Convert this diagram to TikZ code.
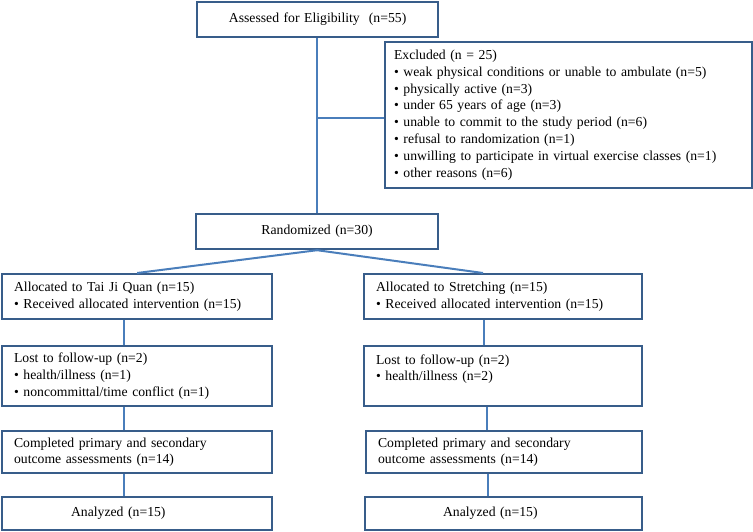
\documentclass[tikz,border=0pt]{standalone}
\usepackage{fontspec}
\setmainfont{Liberation Serif}
\usepackage{xcolor}
\usetikzlibrary{positioning}

\definecolor{boxblue}{RGB}{56,93,138}
\definecolor{lineblue}{RGB}{74,126,187}
\newcommand{\itm}{\textbullet\ }

\begin{document}
\begin{tikzpicture}[x=1pt, y=-1pt,
  every node/.style={font=\fontsize{13.7}{16.8}\selectfont},
  box/.style={draw=boxblue, line width=2.2pt, rectangle, anchor=north west,
    inner xsep=12pt, inner ysep=0pt, align=left},
  link/.style={draw=lineblue, line width=2pt}]
\useasboundingbox (0,0) rectangle (753,531);

% top part
\node[box, align=center, minimum width=241pt, minimum height=35pt, text width=217pt] at (196,1) (assess) {Assessed for Eligibility\ \ (n=55)};
\node[box, inner xsep=9pt, minimum height=146pt, text width=349pt] at (384,41) (excl) {Excluded (n = 25)\\
\itm weak physical conditions or unable to ambulate (n=5)\\
\itm physically active (n=3)\\
\itm under 65 years of age (n=3)\\
\itm unable to commit to the study period (n=6)\\
\itm refusal to randomization (n=1)\\
\itm unwilling to participate in virtual exercise classes (n=1)\\
\itm other reasons (n=6)};
\node[box, align=center, minimum height=35pt, text width=218pt] at (195,213) (rand) {Randomized (n=30)};

% left arm
\node[box, minimum height=45pt, text width=246pt] at (1,273) (taiji) {Allocated to Tai Ji Quan (n=15)\\ \itm Received allocated intervention (n=15)};
\node[box, minimum height=60pt, text width=246pt] at (1,345) (lostL) {Lost to follow-up (n=2)\\ \itm health/illness (n=1)\\ \itm noncommittal/time conflict (n=1)};
\node[box, minimum height=42pt, text width=246pt] at (1,430) (compL) {Completed primary and secondary\\ outcome assessments (n=14)};
\node[box, minimum height=33pt, text width=246pt] at (1,496) (anL) {\hspace*{57pt}Analyzed (n=15)};

% right arm
\node[box, minimum height=45pt, text width=254pt] at (363,273) (stretch) {Allocated to Stretching (n=15)\\ \itm Received allocated intervention (n=15)};
\node[box, minimum height=60pt, text width=254pt] at (363,345) (lostR) {Lost to follow-up (n=2)\\ \itm health/illness (n=2)\\ \mbox{}};
\node[box, minimum height=42pt, text width=252pt] at (365,430) (compR) {Completed primary and secondary\\ outcome assessments (n=14)};
\node[box, minimum height=33pt, text width=253pt] at (364,496) (anR) {\hspace*{66pt}Analyzed (n=15)};

% connectors
\coordinate (split) at (317,118);
\draw[link] (assess.south -| 317,0) -- (rand.north -| 317,0);
\draw[link] (split) -- (split -| excl.west);
\draw[link] (rand.south) -- (taiji.north);
\draw[link] (rand.south) -- (stretch.north -| 483,0);
\draw[link] (taiji.south -| 124,0) -- (lostL.north -| 124,0);
\draw[link] (lostL.south -| 124,0) -- (compL.north -| 124,0);
\draw[link] (compL.south -| 124,0) -- (anL.north -| 124,0);
\draw[link] (stretch.south -| 484,0) -- (lostR.north -| 484,0);
\draw[link] (lostR.south -| 487,0) -- (compR.north -| 487,0);
\draw[link] (compR.south -| 488,0) -- (anR.north -| 488,0);
\end{tikzpicture}
\end{document}
